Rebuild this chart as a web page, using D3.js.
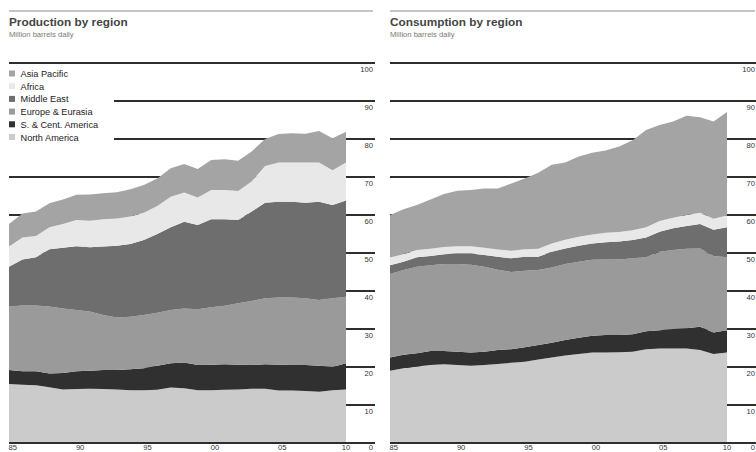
<!DOCTYPE html>
<html>
<head>
<meta charset="utf-8">
<script src="https://cdnjs.cloudflare.com/ajax/libs/d3/7.8.5/d3.min.js"></script>
<style>
  body { margin: 0; background: #fff; }
  svg text { font-family: "Liberation Sans", Arial, sans-serif; }
</style>
</head>
<body>
<svg id="chart" width="756" height="452"></svg>
<script>
// years 1985..2010
const years = d3.range(1985, 2011);

const regions = ["North America", "S. & Cent. America", "Europe & Eurasia", "Middle East", "Africa", "Asia Pacific"];

// Production, million barrels daily
const prodNorthAm  = [15.5,15.3,15.2,14.7,14.1,14.2,14.3,14.2,14.1,13.9,13.9,14.0,14.6,14.4,13.9,13.9,14.0,14.1,14.3,14.3,13.8,13.8,13.7,13.5,13.9,14.1];
const prodSCAm     = [3.7,3.6,3.7,3.6,4.3,4.7,4.7,5.0,5.1,5.5,5.8,6.3,6.4,6.8,6.6,6.7,6.7,6.5,6.2,6.4,6.8,6.7,6.8,6.8,6.1,6.9];
const prodEurope   = [16.7,17.3,17.3,17.6,17.0,16.1,15.6,14.5,13.8,13.8,14.0,14.0,14.0,14.2,14.7,15.1,15.4,16.2,16.9,17.4,17.7,17.8,17.6,17.3,18.1,17.5];
const prodMidEast  = [10.5,12.1,12.7,15.1,16.0,16.8,16.9,18.0,18.9,19.2,19.7,20.7,21.8,22.8,22.2,23.2,22.8,21.9,23.5,25.1,25.2,25.2,25.1,25.9,24.5,25.3];
const prodAfrica   = [5.3,5.8,5.6,5.8,6.2,6.9,7.0,7.2,7.2,7.2,7.2,7.4,8.0,7.7,7.2,7.7,7.7,7.6,7.9,9.7,10.3,10.3,10.6,10.3,9.2,10.0];
const prodAsiaPac  = [5.9,6.3,6.4,6.3,6.5,6.6,6.9,6.8,6.9,7.2,7.3,7.2,7.5,7.5,7.5,7.9,8.1,8.0,7.9,7.1,7.5,7.7,7.6,8.3,8.4,8.1];

// Consumption, million barrels daily
const consNorthAm  = [19.0,19.7,20.1,20.5,20.7,20.5,20.3,20.5,20.8,21.1,21.4,22.0,22.5,23.0,23.4,23.8,23.8,23.9,24.0,24.7,24.9,24.9,24.9,24.5,23.4,23.8];
const consSCAm     = [3.5,3.5,3.5,3.7,3.5,3.5,3.5,3.5,3.7,3.6,3.8,3.8,3.9,4.1,4.3,4.4,4.6,4.5,4.6,4.7,4.8,5.1,5.3,6.1,5.7,5.9];
const consEurope   = [22.0,22.3,22.8,22.6,22.9,23.1,23.1,22.4,21.1,20.3,20.1,19.7,19.8,20.0,20.0,20.0,19.9,19.9,20.0,19.5,20.6,20.8,20.9,20.6,20.1,19.2];
const consMidEast  = [2.3,2.2,2.5,2.4,2.6,2.8,3.0,3.1,3.4,3.6,3.7,3.5,4.1,4.1,4.2,4.3,4.5,4.7,4.8,5.2,5.3,5.7,6.0,6.4,6.9,7.9];
const consAfrica   = [2.0,2.0,1.9,1.9,1.9,1.9,1.9,1.9,1.9,2.0,2.0,2.1,2.2,2.3,2.4,2.4,2.5,2.5,2.6,2.7,2.8,2.8,2.9,3.0,2.9,3.1];
const consAsiaPac  = [11.2,11.8,11.8,13.0,13.9,14.6,14.8,15.6,16.1,17.7,18.6,20.0,20.7,20.3,21.1,21.5,21.7,22.5,23.7,25.6,25.3,25.3,26.1,25.1,25.6,27.2];

const xTicks = [1985, 1990, 1995, 2000, 2005, 2010];
const xTickLabels = ["85", "90", "95", "00", "05", "10"];
const yTicks = [0, 10, 20, 30, 40, 50, 60, 70, 80, 90, 100];

const colors = {
  "North America": "#cbcbcb",
  "S. & Cent. America": "#303030",
  "Europe & Eurasia": "#9a9a9a",
  "Middle East": "#6e6e6e",
  "Africa": "#e8e8e8",
  "Asia Pacific": "#a4a4a4"
};

function rows(series) {
  return years.map((yr, i) => {
    const r = { year: yr };
    regions.forEach((k, j) => { r[k] = series[j][i]; });
    return r;
  });
}

const panels = [
  { title: "Production by region", sub: "Million barrels daily", x0: 9, lineEnd: 375, legend: true,
    data: rows([prodNorthAm, prodSCAm, prodEurope, prodMidEast, prodAfrica, prodAsiaPac]) },
  { title: "Consumption by region", sub: "Million barrels daily", x0: 390, lineEnd: 757, legend: false,
    data: rows([consNorthAm, consSCAm, consEurope, consMidEast, consAfrica, consAsiaPac]) }
];

const svg = d3.select("#chart");
const plotW = 337;

panels.forEach(p => {
  const g = svg.append("g");

  const x = d3.scaleLinear().domain([1985, 2010]).range([p.x0, p.x0 + plotW]);
  const y = d3.scaleLinear().domain([0, 100]).range([443, 63]);

  // top rule + titles
  g.append("line")
    .attr("x1", p.x0).attr("x2", p.lineEnd - 2)
    .attr("y1", 11).attr("y2", 11)
    .attr("stroke", "#8a8a8a").attr("stroke-width", 1);

  g.append("text")
    .attr("x", p.x0).attr("y", 25.5)
    .attr("font-size", 11.8).attr("font-weight", "bold").attr("fill", "#444")
    .text(p.title);

  g.append("text")
    .attr("x", p.x0).attr("y", 36.5)
    .attr("font-size", 7.6).attr("fill", "#777")
    .text(p.sub);

  // grid lines (sit behind the areas)
  g.selectAll(".grid").data(yTicks).join("line")
    .attr("class", "grid")
    .attr("x1", p.x0).attr("x2", p.lineEnd)
    .attr("y1", d => y(d)).attr("y2", d => y(d))
    .attr("stroke", "#2e2e2e").attr("stroke-width", 1.8);

  g.selectAll(".ylab").data(yTicks).join("text")
    .attr("class", "ylab")
    .attr("x", p.lineEnd - 2).attr("y", d => d === 0 ? 450 : y(d) + 9)
    .attr("text-anchor", "end")
    .attr("font-size", 7.6).attr("fill", "#333")
    .text(d => d);

  // stacked areas
  const stack = d3.stack().keys(regions);
  const series = stack(p.data);

  const area = d3.area()
    .x(d => x(d.data.year))
    .y0(d => y(d[0]))
    .y1(d => y(d[1]));

  g.selectAll(".layer").data(series).join("path")
    .attr("class", "layer")
    .attr("d", area)
    .attr("fill", d => colors[d.key]);

  // x axis baseline + labels
  g.append("line")
    .attr("x1", p.x0).attr("x2", p.lineEnd)
    .attr("y1", y(0)).attr("y2", y(0))
    .attr("stroke", "#2e2e2e").attr("stroke-width", 1.8);

  g.selectAll(".xlab").data(xTicks).join("text")
    .attr("class", "xlab")
    .attr("x", (d, i) => i === xTicks.length - 1 ? x(d) : x(d) - 0.5)
    .attr("y", 450)
    .attr("text-anchor", (d, i) => i === xTicks.length - 1 ? "middle" : "start")
    .attr("font-size", 7.6).attr("fill", "#333")
    .text((d, i) => xTickLabels[i]);

  if (p.legend) {
    const lg = g.append("g");
    lg.append("rect")
      .attr("x", 0).attr("y", 65).attr("width", 114).attr("height", 80)
      .attr("fill", "#fff");

    const items = regions.slice().reverse();
    items.forEach((k, i) => {
      lg.append("rect")
        .attr("x", p.x0).attr("y", 70.5 + i * 12.7)
        .attr("width", 6).attr("height", 6)
        .attr("fill", colors[k]);
      lg.append("text")
        .attr("x", p.x0 + 11.5).attr("y", 77 + i * 12.7)
        .attr("font-size", 9.2).attr("fill", "#222")
        .text(k);
    });
  }
});
</script>
</body>
</html>
